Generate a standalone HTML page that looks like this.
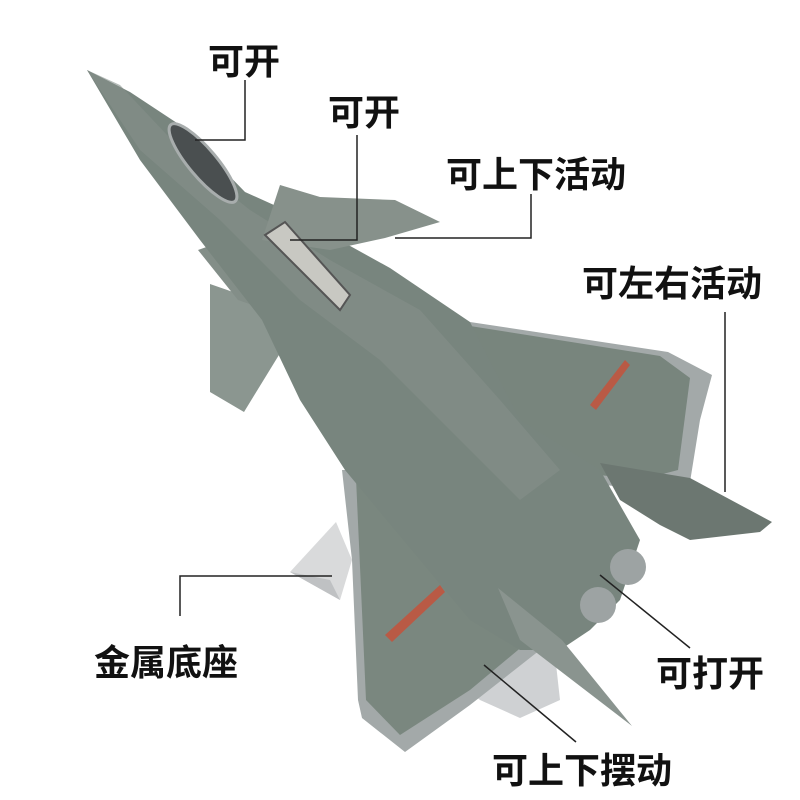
<!DOCTYPE html>
<html><head><meta charset="utf-8"><style>
html,body{margin:0;padding:0;background:#fff;}
.t{position:absolute;font-family:"Liberation Sans","Noto Sans CJK SC",sans-serif;font-weight:bold;font-size:36px;color:#111;white-space:nowrap;line-height:1;}
</style></head><body>
<div style="position:relative;width:800px;height:800px;overflow:hidden;">
<svg width="800" height="800" style="position:absolute;left:0;top:0">
<polygon points="290,572 336,522 352,560 340,600" fill="#d9dadb"/>
<polygon points="290,572 340,600 330,580" fill="#bfc1c3"/>
<polygon points="440,668 520,640 555,655 560,700 520,718 480,700" fill="#cfd1d3"/>
<polygon points="342,470 352,560 358,700 362,718 405,752 470,705 540,650 520,560 430,470" fill="#a3a9a9"/>
<polygon points="356,478 366,700 400,735 470,690 530,640 510,560 430,480" fill="#7a877f"/>
<polygon points="470,322 668,352 712,375 700,420 690,482 650,490 560,480 480,400" fill="#a3a9a9"/>
<polygon points="470,326 660,356 690,378 678,470 640,480 560,470 480,400" fill="#78857d"/>
<polygon points="210,284 256,300 282,350 244,412 210,392" fill="#8b9690"/>
<polygon points="198,250 232,238 268,246 300,322 238,300" fill="#838e88"/>
<polygon points="87,70 130,92 180,125 245,192 285,210 390,268 470,322 520,420 600,470 640,540 620,600 590,630 560,650 520,650 470,620 420,560 345,470 300,400 262,320 200,240 140,160" fill="#78857e"/>
<polygon points="87,70 120,85 200,170 250,210 330,260 420,310 500,400 560,470 520,500 460,440 380,360 300,300 220,220 140,150" fill="#85908a" opacity="0.6"/>
<polygon points="280,185 320,197 395,200 440,222 385,238 330,250 262,240" fill="#87918b"/>
<ellipse cx="203" cy="163" rx="50" ry="14" transform="rotate(50 203 163)" fill="#4a4f50" stroke="#a8adad" stroke-width="3"/>
<polygon points="265,235 285,222 350,295 340,310" fill="#c8c8c2" stroke="#555" stroke-width="2"/>
<polygon points="600,463 690,478 772,522 760,532 690,540 660,525 620,500" fill="#6c7771"/>
<circle cx="628" cy="567" r="18" fill="#9da3a3"/>
<circle cx="598" cy="605" r="18" fill="#9da3a3"/>
<polygon points="498,588 562,640 632,726 520,640" fill="#8a948f"/>
<polygon points="590,405 625,360 630,365 596,410" fill="#b95a45"/>
<polygon points="385,635 440,585 445,592 392,642" fill="#b95a45"/>
<g stroke="#222" stroke-width="1.5" fill="none">
<polyline points="245,80 245,140 195,140"/>
<polyline points="357,135 357,240 290,240"/>
<polyline points="531,194 531,238 395,238"/>
<polyline points="725,312 725,492"/>
<polyline points="180,616 180,576 332,576"/>
<line x1="600" y1="575" x2="690" y2="648"/>
<line x1="484" y1="665" x2="576" y2="742"/>
</g>
</svg>
<div class="t" style="left:208px;top:44px">可开</div>
<div class="t" style="left:328px;top:95px">可开</div>
<div class="t" style="left:446px;top:157px">可上下活动</div>
<div class="t" style="left:582px;top:266px">可左右活动</div>
<div class="t" style="left:94px;top:645px">金属底座</div>
<div class="t" style="left:656px;top:656px">可打开</div>
<div class="t" style="left:492px;top:753px">可上下摆动</div>
</div>
</body></html>
